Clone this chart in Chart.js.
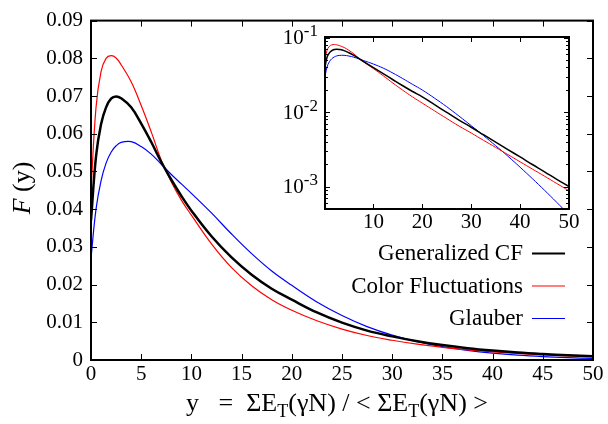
<!DOCTYPE html>
<html><head><meta charset="utf-8">
<script src="https://cdn.jsdelivr.net/npm/chart.js@4/dist/chart.umd.min.js"></script>
<style>
html,body{margin:0;padding:0;background:#fff;}
#wrap{position:relative;width:608px;height:424px;overflow:hidden;}
canvas{position:absolute;left:0;top:0;}
</style></head><body>
<div id="wrap"><canvas id="main" width="608" height="424"></canvas><canvas id="inset" width="608" height="424"></canvas></div>
<script>
// ---- data ----
const xValues       = [0, 0.5, 1, 1.5, 2, 2.5, 3, 4, 5, 6, 7, 8, 9, 10, 12, 14, 16, 18, 20, 22.5, 25, 27.5, 30, 32.5, 35, 37.5, 40, 42.5, 45, 47.5, 50];
const generalizedCF = [0.037, 0.054, 0.0625, 0.067, 0.0693, 0.0699, 0.0694, 0.0670, 0.0627, 0.0578, 0.0525, 0.0478, 0.0435, 0.0396, 0.0328, 0.0272, 0.0226, 0.0189, 0.0160, 0.0126, 0.0099, 0.0078, 0.00626, 0.00497, 0.00395, 0.00314, 0.0025, 0.00198, 0.00158, 0.00125, 0.0010];
const colorFluct    = [0.045, 0.067, 0.0765, 0.0800, 0.0807, 0.0801, 0.0783, 0.0738, 0.0675, 0.0605, 0.0530, 0.0472, 0.0424, 0.0384, 0.0308, 0.0245, 0.0197, 0.0160, 0.0132, 0.0104, 0.0082, 0.0065, 0.00524, 0.00419, 0.00336, 0.00269, 0.00215, 0.00172, 0.00138, 0.0011, 0.00088];
const glauber       = [0.027, 0.040, 0.0475, 0.0522, 0.0551, 0.0568, 0.0577, 0.0579, 0.0566, 0.0546, 0.0519, 0.0492, 0.0467, 0.0442, 0.0390, 0.0334, 0.0282, 0.0236, 0.0198, 0.0154, 0.0118, 0.00885, 0.00658, 0.00485, 0.00354, 0.00256, 0.00182, 0.00128, 0.000892, 0.000614, 0.000417];
const seriesLabels  = ['Generalized CF', 'Color Fluctuations', 'Glauber'];
const mainXTicks    = [0, 5, 10, 15, 20, 25, 30, 35, 40, 45, 50];
const mainYTicks    = [0, 0.01, 0.02, 0.03, 0.04, 0.05, 0.06, 0.07, 0.08, 0.09];
const mainYTickLabels = ['0', '0.01', '0.02', '0.03', '0.04', '0.05', '0.06', '0.07', '0.08', '0.09'];
const insetXTicks   = [10, 20, 30, 40, 50];
const insetYTicks   = [0.001, 0.01, 0.1];
const insetYExponents = ['-3', '-2', '-1'];

const SERIF = '"Liberation Serif", "Times New Roman", serif';
const colors = ['#000000', '#ff0000', '#0000ff'];
const series = [generalizedCF, colorFluct, glauber];
const pts = ys => xValues.map((x, i) => ({x: x, y: ys[i]}));

function drawFrame(chart, xt, yt, L, minorY, Lm) {
  const ctx = chart.ctx, a = chart.chartArea, xs = chart.scales.x, ys = chart.scales.y;
  ctx.save();
  ctx.strokeStyle = '#000'; ctx.lineWidth = 1;
  ctx.beginPath();
  xt.forEach(v => { const p = Math.round(xs.getPixelForValue(v)) + 0.5;
    ctx.moveTo(p, a.bottom); ctx.lineTo(p, a.bottom - L);
    ctx.moveTo(p, a.top); ctx.lineTo(p, a.top + L); });
  yt.forEach(v => { const p = Math.round(ys.getPixelForValue(v)) + 0.5;
    ctx.moveTo(a.left, p); ctx.lineTo(a.left + L, p);
    ctx.moveTo(a.right, p); ctx.lineTo(a.right - L, p); });
  (minorY || []).forEach(v => { const p = Math.round(ys.getPixelForValue(v)) + 0.5;
    if (p < a.top || p > a.bottom) return;
    ctx.moveTo(a.left, p); ctx.lineTo(a.left + Lm, p);
    ctx.moveTo(a.right, p); ctx.lineTo(a.right - Lm, p); });
  ctx.stroke();
  ctx.lineWidth = 2;
  ctx.strokeRect(a.left, a.top, a.right - a.left, a.bottom - a.top);
  ctx.restore();
}

function drawPieces(ctx, pieces, x, y) {
  let total = 0;
  pieces.forEach(p => { ctx.font = p[1]; total += ctx.measureText(p[0]).width; });
  let cx = x - total / 2;
  pieces.forEach(p => { ctx.font = p[1]; ctx.fillText(p[0], cx, y + p[2]); cx += ctx.measureText(p[0]).width; });
}

const mainPlugin = {
  id: 'mainDecor',
  afterDatasetsDraw(chart) {
    drawFrame(chart, mainXTicks, mainYTicks, 6);
    const ctx = chart.ctx;
    ctx.save();
    ctx.fillStyle = '#000';
    ctx.font = '23px ' + SERIF;
    ctx.textAlign = 'right';
    const rows = [253, 285.5, 318];
    chart.data.datasets.forEach((ds, i) => {
      ctx.textBaseline = 'middle';
      ctx.fillText(ds.label, 523, rows[i] + 1);
      ctx.beginPath();
      ctx.strokeStyle = ds.borderColor; ctx.lineWidth = i === 0 ? 2 : 1.2;
      ctx.moveTo(532, rows[i] + 0.5); ctx.lineTo(565, rows[i] + 0.5); ctx.stroke();
    });
    ctx.textAlign = 'left'; ctx.textBaseline = 'alphabetic';
    const big = '26px ' + SERIF, small = '18px ' + SERIF;
    drawPieces(ctx, [['y   =  \u03A3E', big, 0], ['T', small, 6], ['(\u03B3N) / < \u03A3E', big, 0], ['T', small, 6], ['(\u03B3N) >', big, 0]], 337, 411);
    ctx.translate(30, 188);
    ctx.rotate(-Math.PI / 2);
    drawPieces(ctx, [['F', 'italic 26px ' + SERIF, 0], [' (y)', big, 0]], 0, 0);
    ctx.restore();
  }
};

const minorLog = [];
[0.0001, 0.001, 0.01].forEach(d => { for (let k = 2; k <= 9; k++) minorLog.push(d * k); });

const insetPlugin = {
  id: 'insetDecor',
  afterDatasetsDraw(chart) {
    drawFrame(chart, insetXTicks, insetYTicks, 5, minorLog, 3);
    const ctx = chart.ctx, ys = chart.scales.y, a = chart.chartArea;
    ctx.save();
    ctx.fillStyle = '#000';
    ctx.textBaseline = 'middle';
    insetYTicks.forEach((v, i) => {
      const p = ys.getPixelForValue(v);
      ctx.font = '17px ' + SERIF; ctx.textAlign = 'right';
      const ew = ctx.measureText(insetYExponents[i]).width;
      ctx.fillText(insetYExponents[i], a.left - 7, p - 6);
      ctx.font = '21px ' + SERIF;
      ctx.fillText('10', a.left - 7 - ew, p + 1);
    });
    ctx.restore();
  }
};

const lineDs = (w) => series.map((s, i) => ({
  label: seriesLabels[i], data: pts(s), borderColor: colors[i],
  borderWidth: i === 0 ? w[0] : w[1], pointRadius: 0, fill: false,
  tension: 0.4
}));

function build() {
  Chart.defaults.font.family = SERIF;
  Chart.defaults.color = '#000';

  new Chart(document.getElementById('main'), {
    type: 'line',
    data: { datasets: lineDs([2.5, 1.2]) },
    options: {
      responsive: false, animation: false, devicePixelRatio: 1,
      layout: { padding: { top: 15, right: 15, left: 0, bottom: 0 } },
      plugins: { legend: { display: false }, tooltip: { enabled: false } },
      scales: {
        x: { type: 'linear', min: 0, max: 50,
          afterBuildTicks: s => { s.ticks = mainXTicks.map(v => ({value: v})); },
          afterFit: s => { s.height = 64; },
          grid: { display: false, drawTicks: false }, border: { display: false },
          ticks: { font: { size: 21, family: SERIF }, padding: 2, maxRotation: 0, autoSkip: false } },
        y: { type: 'linear', min: 0, max: 0.09,
          afterBuildTicks: s => { s.ticks = mainYTicks.map(v => ({value: v})); },
          afterFit: s => { s.width = 91; },
          grid: { display: false, drawTicks: false }, border: { display: false },
          ticks: { font: { size: 21, family: SERIF }, padding: 8, autoSkip: false,
            callback: (v) => mainYTickLabels[mainYTicks.findIndex(t => Math.abs(t - v) < 1e-9)] } }
      }
    },
    plugins: [mainPlugin]
  });

  new Chart(document.getElementById('inset'), {
    type: 'line',
    data: { datasets: lineDs([1.5, 1]) },
    options: {
      responsive: false, animation: false, devicePixelRatio: 1,
      layout: { padding: { top: 37, right: 39, left: 270, bottom: 190 } },
      plugins: { legend: { display: false }, tooltip: { enabled: false } },
      scales: {
        x: { type: 'linear', min: 0.1, max: 50,
          afterBuildTicks: s => { s.ticks = insetXTicks.map(v => ({value: v})); },
          afterFit: s => { s.height = 424 - 209 - 190; },
          grid: { display: false, drawTicks: false }, border: { display: false },
          ticks: { font: { size: 21, family: SERIF }, padding: 1, maxRotation: 0, autoSkip: false } },
        y: { type: 'logarithmic', min: 0.0005, max: 0.102,
          afterFit: s => { s.width = 325 - 270; },
          grid: { display: false, drawTicks: false }, border: { display: false },
          ticks: { display: false } }
      }
    },
    plugins: [insetPlugin]
  });
}

build();
</script>
</body></html>
